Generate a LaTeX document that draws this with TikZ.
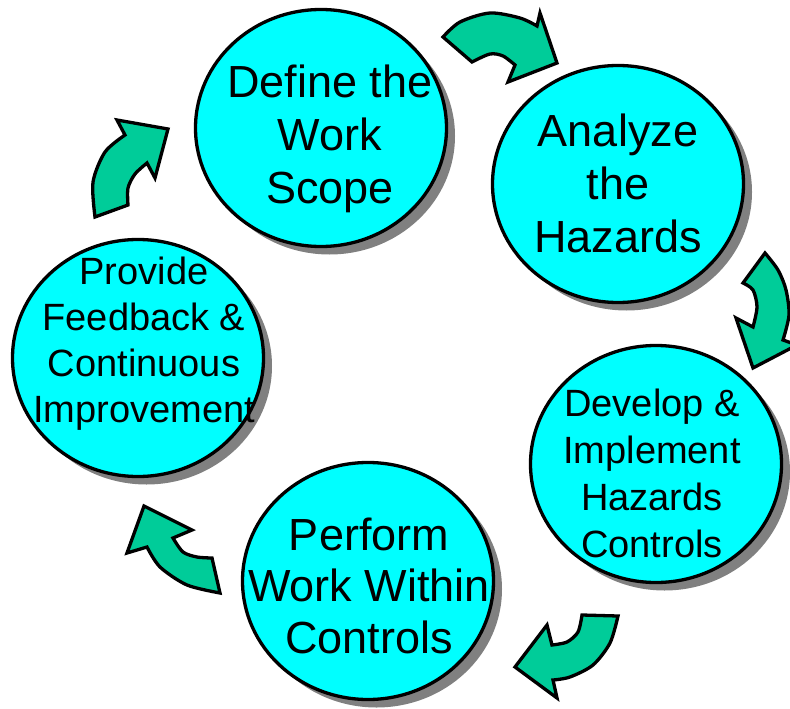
\documentclass[tikz,border=0pt]{standalone}
\usepackage{fontspec}
\setmainfont{Liberation Sans}
\usetikzlibrary{shapes.geometric,shadows}
\definecolor{discfill}{HTML}{00FFFF}
\definecolor{arrowfill}{HTML}{00CC99}
\definecolor{shadegray}{HTML}{808080}
\begin{document}
\begin{tikzpicture}[x=1pt,y=-1pt,
  disc/.style={ellipse, draw=black, line width=3.3pt, fill=discfill,
    minimum width=251pt, minimum height=237pt, inner sep=0pt,
    drop shadow={shadow xshift=8.5pt, shadow yshift=-8pt, fill=shadegray, opacity=1}},
  bigtxt/.style={align=center, anchor=base, inner sep=0pt},
  flow/.style={fill=arrowfill, draw=black, line width=3.3pt, line join=miter, miter limit=6}]
\useasboundingbox (0,0) rectangle (790,709);

% discs
\node[disc] (define) at (321,128) {};
\node[disc] (analyze) at (618,184) {};
\node[disc] (develop) at (656,464) {};
\node[disc] (perform) at (368,581) {};
\node[disc] (provide) at (138,358) {};

% texts (anchor = baseline of the last line)
\node[bigtxt, font=\fontsize{45}{53}\selectfont] (tdefine) at (330,203) {Define the\\Work\\Scope};
\node[bigtxt, font=\fontsize{45}{53}\selectfont] (tanalyze) at (618,252) {Analyze\\the\\Hazards};
\node[bigtxt, font=\fontsize{38}{46.7}\selectfont] (tdevelop) at (652,557) {Develop \&\\Implement\\Hazards\\Controls};
\node[bigtxt, font=\fontsize{45}{51.5}\selectfont] (tperform) at (369,653) {Perform\\Work Within\\Controls};
\node[bigtxt, font=\fontsize{38}{45.7}\selectfont] (tprovide) at (144,422) {Provide\\Feedback \&\\Continuous\\Improvement};

% curved block arrows
\draw[flow] plot[smooth] coordinates {(443,37) (460,22) (490,13) (520,18) (537,26)}
  -- (540,13) -- (557,63) -- (508,82)
  -- plot[smooth] coordinates {(515,65) (503,56) (490,54) (472,62)} -- cycle;

\draw[flow] plot[smooth] coordinates {(765,253) (778,270) (786,290) (789,315) (783,340)}
  -- (797,345) -- (753,368) -- (736,318)
  -- plot[smooth] coordinates {(753,327) (757,307) (753,290) (743,283)} -- cycle;

\draw[flow] plot[smooth] coordinates {(618,616) (610,643) (593,665) (570,677) (553,680)}
  -- (557,698) -- (515,667) -- (547,625)
  -- plot[smooth] coordinates {(552,645) (567,642) (578,632) (582,615)} -- cycle;

\draw[flow] plot[smooth] coordinates {(220,593) (187,585) (160,567) (147,547)}
  -- (127,553) -- (144,506) -- (192,530)
  -- plot[smooth] coordinates {(173,538) (183,552) (197,557) (212,558)} -- cycle;

\draw[flow] plot[smooth] coordinates {(95,217) (93,182) (105,152) (125,135)}
  -- (117,120) -- (168,129) -- (155,178)
  -- plot[smooth] coordinates {(147,163) (135,174) (128,188) (128,205)} -- cycle;
\end{tikzpicture}
\end{document}
